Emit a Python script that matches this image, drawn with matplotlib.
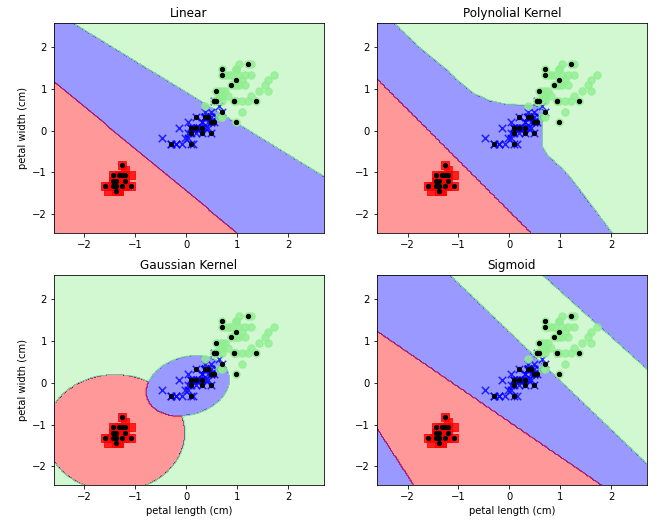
import numpy as np
import matplotlib
matplotlib.use('Agg')
import matplotlib.pyplot as plt
from matplotlib.colors import ListedColormap
from matplotlib.path import Path

# iris petal measurements (cm): setosa, versicolor, virginica (50 rows each)
petal_length = [
    1.4, 1.4, 1.3, 1.5, 1.4, 1.7, 1.4, 1.5, 1.4, 1.5,
    1.5, 1.6, 1.4, 1.1, 1.2, 1.5, 1.3, 1.4, 1.7, 1.5,
    1.7, 1.5, 1.0, 1.7, 1.9, 1.6, 1.6, 1.5, 1.4, 1.6,
    1.6, 1.5, 1.5, 1.4, 1.5, 1.2, 1.3, 1.4, 1.3, 1.5,
    1.3, 1.3, 1.3, 1.6, 1.9, 1.4, 1.6, 1.4, 1.5, 1.4,
    4.7, 4.5, 4.9, 4.0, 4.6, 4.5, 4.7, 3.3, 4.6, 3.9,
    3.5, 4.2, 4.0, 4.7, 3.6, 4.4, 4.5, 4.1, 4.5, 3.9,
    4.8, 4.0, 4.9, 4.7, 4.3, 4.4, 4.8, 5.0, 4.5, 3.5,
    3.8, 3.7, 3.9, 5.1, 4.5, 4.5, 4.7, 4.4, 4.1, 4.0,
    4.4, 4.6, 4.0, 3.3, 4.2, 4.2, 4.2, 4.3, 3.0, 4.1,
    6.0, 5.1, 5.9, 5.6, 5.8, 6.6, 4.5, 6.3, 5.8, 6.1,
    5.1, 5.3, 5.5, 5.0, 5.1, 5.3, 5.5, 6.7, 6.9, 5.0,
    5.7, 4.9, 6.7, 4.9, 5.7, 6.0, 4.8, 4.9, 5.6, 5.8,
    6.1, 6.4, 5.6, 5.1, 5.6, 6.1, 5.6, 5.5, 4.8, 5.4,
    5.6, 5.1, 5.1, 5.9, 5.7, 5.2, 5.0, 5.2, 5.4, 5.1]
petal_width = [
    0.2, 0.2, 0.2, 0.2, 0.2, 0.4, 0.3, 0.2, 0.2, 0.1,
    0.2, 0.2, 0.1, 0.1, 0.2, 0.4, 0.4, 0.3, 0.3, 0.3,
    0.2, 0.4, 0.2, 0.5, 0.2, 0.2, 0.4, 0.2, 0.2, 0.2,
    0.2, 0.4, 0.1, 0.2, 0.2, 0.2, 0.2, 0.1, 0.2, 0.2,
    0.3, 0.3, 0.2, 0.6, 0.4, 0.3, 0.2, 0.2, 0.2, 0.2,
    1.4, 1.5, 1.5, 1.3, 1.5, 1.3, 1.6, 1.0, 1.3, 1.4,
    1.0, 1.5, 1.0, 1.4, 1.3, 1.4, 1.5, 1.0, 1.5, 1.1,
    1.8, 1.3, 1.5, 1.2, 1.3, 1.4, 1.4, 1.7, 1.5, 1.0,
    1.1, 1.0, 1.2, 1.6, 1.5, 1.6, 1.5, 1.3, 1.3, 1.3,
    1.2, 1.4, 1.2, 1.0, 1.3, 1.2, 1.3, 1.3, 1.1, 1.3,
    2.5, 1.9, 2.1, 1.8, 2.2, 2.1, 1.7, 1.8, 1.8, 2.5,
    2.0, 1.9, 2.1, 2.0, 2.4, 2.3, 1.8, 2.2, 2.3, 1.5,
    2.3, 2.0, 2.0, 1.8, 2.1, 1.8, 1.8, 1.8, 2.1, 1.6,
    1.9, 2.0, 2.2, 1.5, 1.4, 2.3, 2.4, 1.8, 1.8, 2.1,
    2.4, 2.3, 1.9, 2.3, 2.5, 2.3, 1.9, 2.0, 2.3, 1.8]
class_names = [0, 1, 2]
rows_per_class = 50

# rows (1-based) highlighted as test samples
test_rows = [44, 17, 16, 6, 41, 7, 19, 23, 3, 1, 12, 25, 13, 27, 2,
             62, 67, 55, 77, 64, 54, 95, 88, 93, 91, 74, 58, 63, 71, 84,
             101, 115, 142, 133, 140, 122, 127, 124, 138, 108, 135, 139, 128, 117]

# scaler used for the plot
length_mean, length_std = 3.852, 1.782
width_mean, width_std = 1.241, 0.787

titles = ['Linear', 'Polynolial Kernel', 'Gaussian Kernel', 'Sigmoid']
colors = ('red', 'blue', 'lightgreen')
markers = ('s', 'x', 'o')

# decision boundaries (standardised units)
# straight boundaries as (slope, intercept)
linear_red = (-1.01, -1.446)
linear_green = (-0.747, 0.927)

poly_red = (-1.224, -1.937)
poly_green_x = [-2.35, -2.27, -1.71, -1.22, -1.02, -0.70, -0.37, -0.04, 0.29, 0.50,
                0.60, 0.65, 0.65, 0.65, 0.75, 1.01, 1.20, 1.40, 1.99, 2.08, 2.9, 2.9]
poly_green_y = [2.7, 2.6, 1.94, 1.46, 1.22, 0.90, 0.72, 0.64, 0.62, 0.62,
                0.57, 0.42, 0.01, -0.39, -0.59, -0.87, -1.12, -1.44, -2.40, -2.55, -2.55, 2.7]

rbf_red_center = (-1.4, -1.2)
rbf_red_radius = (1.37, 1.4)
rbf_blue_center = (0.03, -0.07)
rbf_blue_axes = (0.86, 0.68)
rbf_blue_angle = 30

sig_red_upper = (-0.838, -0.94)
sig_red_lower = (-1.89, -6.004)
sig_green_lower = (-1.172, 1.224)
sig_green_upper = (-1.1, 3.29)


def above(line, xx, yy):
    return yy > line[0] * xx + line[1]


def in_ellipse(center, radii, angle, xx, yy):
    t = np.deg2rad(angle)
    dx, dy = xx - center[0], yy - center[1]
    u = dx * np.cos(t) + dy * np.sin(t)
    v = -dx * np.sin(t) + dy * np.cos(t)
    return (u / radii[0]) ** 2 + (v / radii[1]) ** 2 < 1


def linear_regions(xx, yy):
    z = np.ones(xx.shape)
    z[~above(linear_red, xx, yy)] = 0
    z[above(linear_green, xx, yy)] = 2
    return z


def poly_regions(xx, yy):
    z = np.ones(xx.shape)
    z[~above(poly_red, xx, yy)] = 0
    path = Path(np.column_stack([poly_green_x, poly_green_y]))
    inside = path.contains_points(np.c_[xx.ravel(), yy.ravel()]).reshape(xx.shape)
    z[inside] = 2
    return z


def rbf_regions(xx, yy):
    z = np.full(xx.shape, 2.0)
    z[in_ellipse(rbf_red_center, rbf_red_radius, 0, xx, yy)] = 0
    z[in_ellipse(rbf_blue_center, rbf_blue_axes, rbf_blue_angle, xx, yy)] = 1
    return z


def sigmoid_regions(xx, yy):
    z = np.ones(xx.shape)
    z[~above(sig_red_upper, xx, yy) & above(sig_red_lower, xx, yy)] = 0
    z[above(sig_green_lower, xx, yy) & ~above(sig_green_upper, xx, yy)] = 2
    return z


X = np.column_stack([(np.array(petal_length) - length_mean) / length_std,
                     (np.array(petal_width) - width_mean) / width_std])
y = np.repeat(class_names, rows_per_class)
X_test = X[np.array(test_rows) - 1]

resolution = 0.02
x1_min, x1_max = X[:, 0].min() - 1, X[:, 0].max() + 1
x2_min, x2_max = X[:, 1].min() - 1, X[:, 1].max() + 1
xx1, xx2 = np.meshgrid(np.arange(x1_min, x1_max, resolution),
                       np.arange(x2_min, x2_max, resolution))

cmap = ListedColormap(colors)
region_funcs = [linear_regions, poly_regions, rbf_regions, sigmoid_regions]

fig, axes = plt.subplots(2, 2, figsize=(665 / 72, 530 / 72), dpi=72)
fig.subplots_adjust(left=0.081, right=0.973, top=0.957, bottom=0.085,
                    wspace=0.196, hspace=0.2)

for ax, title, func in zip(axes.flat, titles, region_funcs):
    Z = func(xx1, xx2)
    ax.contourf(xx1, xx2, Z, alpha=0.4, cmap=cmap)
    ax.set_xlim(xx1.min(), xx1.max())
    ax.set_ylim(xx2.min(), xx2.max())
    for idx, cl in enumerate(class_names):
        ax.scatter(X[y == cl, 0], X[y == cl, 1], alpha=0.8, s=55,
                   c=colors[idx], marker=markers[idx])
    ax.scatter(X_test[:, 0], X_test[:, 1], c='black', marker='o', s=18)
    ax.set_title(title)

for ax in axes[:, 0]:
    ax.set_ylabel('petal width (cm)')
for ax in axes[1, :]:
    ax.set_xlabel('petal length (cm)')

fig.savefig('out.png', dpi=72)
